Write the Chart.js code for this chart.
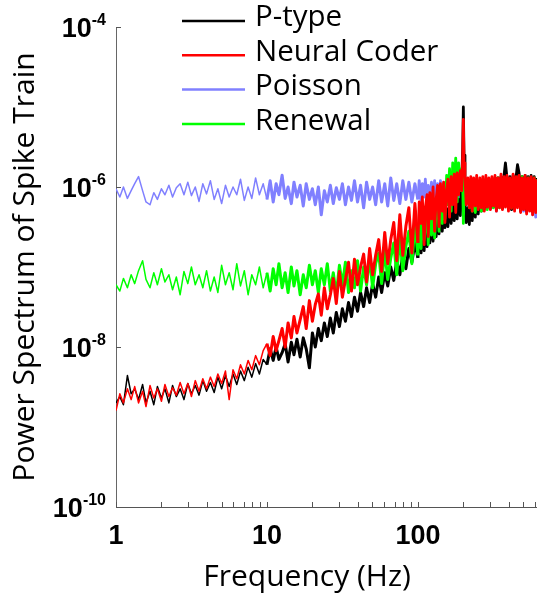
<!doctype html>
<html lang="en">
<head>
<meta charset="utf-8">
<title>Power Spectrum of Spike Train</title>
<script src="https://cdn.jsdelivr.net/npm/chart.js@4.4.1/dist/chart.umd.min.js"></script>
<style>
  html, body { margin: 0; padding: 0; background: #fff; }
  #wrap { width: 537px; height: 596px; }
</style>
</head>
<body>
<div id="wrap"><canvas id="psd" width="537" height="596"></canvas></div>
<script>
// frequency bins (Hz)
const freq = [
  1, 1.06, 1.12, 1.19, 1.26, 1.33, 1.41, 1.5, 1.58, 1.68,
  1.78, 1.88, 2, 2.11, 2.24, 2.37, 2.51, 2.66, 2.82, 2.99,
  3.16, 3.35, 3.55, 3.76, 3.98, 4.22, 4.47, 4.73, 5.01, 5.31,
  5.62, 5.96, 6.31, 6.68, 7.08, 7.5, 7.94, 8.41, 8.91, 9.44,
  10, 10.5, 11, 11.5, 12, 12.6, 13.2, 13.8, 14.5, 15.1,
  15.8, 16.6, 17.4, 18.2, 19.1, 20, 20.9, 21.9, 22.9, 24,
  25.1, 26.3, 27.5, 28.8, 30.2, 31.6, 33.1, 34.7, 36.3, 38,
  39.8, 41.7, 43.7, 45.7, 47.9, 50.1, 52.5, 55, 57.5, 60.3,
  63.1, 66.1, 69.2, 72.4, 75.9, 79.4, 83.2, 87.1, 91.2, 95.5,
  100, 102, 105, 107, 110, 112, 115, 117, 120, 123,
  126, 129, 132, 135, 138, 141, 145, 148, 151, 155,
  158, 162, 166, 170, 174, 178, 182, 186, 191, 195,
  198, 200, 202, 205, 209, 214, 219, 224, 229, 234,
  240, 245, 251, 257, 263, 269, 275, 282, 288, 295,
  302, 309, 316, 324, 331, 339, 347, 355, 363, 372,
  380, 389, 398, 407, 417, 427, 437, 447, 457, 468,
  479, 490, 501, 513, 525, 537, 550, 562, 575, 589,
  603, 615
];

const pType = [
  2.0e-9, 2.4e-9, 1.9e-9, 4.4e-9, 2.6e-9, 3.0e-9, 2.2e-9, 3.4e-9, 2.0e-9, 2.8e-9,
  1.9e-9, 3.2e-9, 2.3e-9, 3.0e-9, 2.0e-9, 3.3e-9, 2.4e-9, 3.0e-9, 2.2e-9, 3.5e-9,
  2.6e-9, 3.3e-9, 2.5e-9, 3.8e-9, 2.8e-9, 3.6e-9, 2.7e-9, 4.2e-9, 3.0e-9, 4.4e-9,
  3.2e-9, 4.6e-9, 3.4e-9, 5.0e-9, 3.8e-9, 5.6e-9, 4.2e-9, 6.2e-9, 4.6e-9, 7.0e-9,
  6.0e-9, 9.5e-9, 6.8e-9, 1.0e-8, 7.0e-9, 8.5e-9, 1.1e-8, 6.5e-9, 1.15e-8, 8.0e-9,
  1.25e-8, 7.5e-9, 1.3e-8, 9.5e-9, 5.5e-9, 1.5e-8, 1.0e-8, 1.7e-8, 1.2e-8, 2.0e-8,
  1.35e-8, 2.3e-8, 1.5e-8, 2.7e-8, 1.8e-8, 3.0e-8, 2.1e-8, 3.6e-8, 2.4e-8, 4.2e-8,
  2.8e-8, 4.8e-8, 3.2e-8, 5.5e-8, 3.6e-8, 6.2e-8, 4.2e-8, 7.5e-8, 4.8e-8, 8.5e-8,
  5.8e-8, 1.0e-7, 6.8e-8, 1.2e-7, 8.0e-8, 1.4e-7, 9.5e-8, 1.7e-7, 1.15e-7, 2.0e-7,
  1.3e-7, 2.4e-7, 1.5e-7, 2.7e-7, 1.6e-7, 2.9e-7, 1.8e-7, 3.2e-7, 2.0e-7, 3.5e-7,
  2.1e-7, 3.8e-7, 2.4e-7, 4.2e-7, 2.6e-7, 4.6e-7, 2.8e-7, 5.0e-7, 3.1e-7, 5.4e-7,
  3.2e-7, 5.8e-7, 3.5e-7, 6.2e-7, 3.8e-7, 6.6e-7, 4.0e-7, 7.0e-7, 4.4e-7, 1.2e-6,
  3.0e-6, 1.0e-5, 2.5e-6, 5.0e-7, 3.6e-7, 5.5e-7, 3.4e-7, 6.0e-7, 3.8e-7, 7.0e-7,
  4.2e-7, 8.0e-7, 4.6e-7, 9.0e-7, 5.0e-7, 1.0e-6, 5.2e-7, 1.1e-6, 5.5e-7, 1.2e-6,
  5.4e-7, 1.25e-6, 5.6e-7, 1.3e-6, 5.2e-7, 1.3e-6, 5.6e-7, 1.35e-6, 5.4e-7, 1.4e-6,
  2.0e-6, 1.3e-6, 5.5e-7, 1.35e-6, 5.2e-7, 1.4e-6, 5.4e-7, 1.35e-6, 1.9e-6, 1.5e-6,
  5.0e-7, 1.35e-6, 5.4e-7, 1.4e-6, 5.0e-7, 1.35e-6, 5.2e-7, 1.4e-6, 5.0e-7, 1.35e-6,
  5.2e-7, 1.3e-6
];

const neuralCoder = [
  1.6e-9, 2.6e-9, 2.0e-9, 3.0e-9, 2.2e-9, 3.2e-9, 2.0e-9, 2.8e-9, 1.8e-9, 3.3e-9,
  2.3e-9, 3.0e-9, 2.1e-9, 3.4e-9, 2.4e-9, 3.1e-9, 2.5e-9, 3.6e-9, 2.6e-9, 3.5e-9,
  2.4e-9, 3.8e-9, 2.8e-9, 4.0e-9, 3.0e-9, 4.2e-9, 3.2e-9, 4.6e-9, 3.5e-9, 5.0e-9,
  2.2e-9, 5.2e-9, 4.0e-9, 6.0e-9, 4.6e-9, 6.8e-9, 5.2e-9, 7.8e-9, 6.0e-9, 9.0e-9,
  1.1e-8, 7.8e-9, 1.35e-8, 9.0e-9, 1.2e-8, 1.7e-8, 1.0e-8, 2.0e-8, 1.3e-8, 2.4e-8,
  1.5e-8, 2.2e-8, 3.2e-8, 1.7e-8, 3.8e-8, 2.1e-8, 3.4e-8, 4.6e-8, 2.5e-8, 5.5e-8,
  3.0e-8, 4.5e-8, 7.2e-8, 3.5e-8, 8.8e-8, 4.2e-8, 7.0e-8, 1.15e-7, 5.0e-8, 1.25e-7,
  6.0e-8, 1.0e-7, 1.45e-7, 6.5e-8, 1.7e-7, 8.0e-8, 1.4e-7, 2.2e-7, 8.8e-8, 2.7e-7,
  1.1e-7, 2.2e-7, 3.6e-7, 1.2e-7, 4.5e-7, 1.4e-7, 3.2e-7, 5.5e-7, 1.5e-7, 6.2e-7,
  2.0e-7, 6.5e-7, 3.5e-7, 7.5e-7, 1.9e-7, 5.5e-7, 8.0e-7, 2.4e-7, 8.5e-7, 4.0e-7,
  1.0e-6, 2.8e-7, 7.0e-7, 1.05e-6, 3.2e-7, 1.1e-6, 5.0e-7, 1.15e-6, 3.6e-7, 9.0e-7,
  1.25e-6, 4.2e-7, 1.35e-6, 6.0e-7, 1.45e-6, 4.8e-7, 1.5e-6, 8.0e-7, 1.6e-6, 9.0e-7,
  2.5e-6, 7.0e-6, 2.0e-6, 1.3e-6, 6.0e-7, 1.3e-6, 5.5e-7, 1.35e-6, 5.0e-7, 1.3e-6,
  5.8e-7, 1.4e-6, 5.2e-7, 1.3e-6, 5.5e-7, 1.35e-6, 5.0e-7, 1.4e-6, 5.6e-7, 1.3e-6,
  5.2e-7, 1.35e-6, 5.8e-7, 1.4e-6, 5.0e-7, 1.3e-6, 5.5e-7, 1.45e-6, 5.2e-7, 1.35e-6,
  5.6e-7, 1.4e-6, 5.0e-7, 1.3e-6, 5.4e-7, 1.45e-6, 5.0e-7, 1.35e-6, 5.5e-7, 1.4e-6,
  4.8e-7, 1.3e-6, 5.2e-7, 1.4e-6, 4.6e-7, 1.3e-6, 5.0e-7, 1.35e-6, 4.5e-7, 1.3e-6,
  4.8e-7, 1.25e-6
];

const poisson = [
  9.5e-7, 7.5e-7, 1.0e-6, 7.2e-7, 9.0e-7, 1.1e-6, 1.35e-6, 9.0e-7, 6.5e-7, 6.0e-7,
  8.5e-7, 7.0e-7, 9.5e-7, 8.0e-7, 1.05e-6, 7.5e-7, 9.8e-7, 1.1e-6, 8.0e-7, 1.15e-6,
  7.8e-7, 1.0e-6, 6.6e-7, 1.1e-6, 8.2e-7, 1.2e-6, 7.0e-7, 9.5e-7, 6.2e-7, 1.05e-6,
  7.5e-7, 1.0e-6, 8.0e-7, 1.25e-6, 6.8e-7, 1.0e-6, 7.2e-7, 1.3e-6, 8.0e-7, 1.1e-6,
  7.0e-7, 1.2e-6, 6.5e-7, 1.1e-6, 8.0e-7, 1.4e-6, 7.2e-7, 1.0e-6, 6.2e-7, 1.15e-6,
  7.5e-7, 1.05e-6, 5.8e-7, 1.1e-6, 7.0e-7, 9.5e-7, 6.0e-7, 1.0e-6, 4.5e-7, 9.0e-7,
  6.5e-7, 1.05e-6, 6.2e-7, 9.8e-7, 7.0e-7, 1.1e-6, 6.0e-7, 1.0e-6, 6.8e-7, 1.2e-6,
  6.5e-7, 1.05e-6, 5.5e-7, 1.15e-6, 7.0e-7, 1.0e-6, 6.0e-7, 1.2e-6, 6.5e-7, 1.1e-6,
  5.8e-7, 1.3e-6, 6.8e-7, 1.1e-6, 6.2e-7, 1.2e-6, 7.0e-7, 1.15e-6, 6.5e-7, 1.1e-6,
  7.0e-7, 1.2e-6, 6.5e-7, 1.1e-6, 7.5e-7, 1.25e-6, 6.2e-7, 1.05e-6, 7.0e-7, 1.15e-6,
  6.5e-7, 1.2e-6, 6.8e-7, 1.1e-6, 6.0e-7, 1.2e-6, 7.0e-7, 1.05e-6, 6.5e-7, 1.15e-6,
  6.8e-7, 1.1e-6, 6.2e-7, 1.05e-6, 6.5e-7, 9.5e-7, 6.0e-7, 9.0e-7, 5.5e-7, 7.5e-7,
  5.0e-7, 6.0e-7, 5.2e-7, 8.0e-7, 6.0e-7, 9.5e-7, 5.8e-7, 1.0e-6, 6.2e-7, 1.1e-6,
  5.5e-7, 1.05e-6, 6.0e-7, 1.1e-6, 5.8e-7, 1.0e-6, 6.5e-7, 1.1e-6, 5.5e-7, 1.05e-6,
  6.2e-7, 1.1e-6, 5.8e-7, 1.0e-6, 5.0e-7, 1.05e-6, 6.0e-7, 1.1e-6, 5.5e-7, 1.0e-6,
  6.2e-7, 1.05e-6, 5.5e-7, 1.1e-6, 5.8e-7, 1.0e-6, 5.2e-7, 1.05e-6, 6.0e-7, 9.5e-7,
  5.5e-7, 1.0e-6, 5.0e-7, 9.5e-7, 4.8e-7, 1.0e-6, 5.2e-7, 9.0e-7, 4.5e-7, 9.5e-7,
  4.2e-7, 9.0e-7
];

const renewal = [
  6.0e-8, 5.0e-8, 7.2e-8, 5.5e-8, 8.0e-8, 6.2e-8, 9.0e-8, 1.2e-7, 7.0e-8, 5.5e-8,
  8.5e-8, 6.0e-8, 9.5e-8, 6.5e-8, 8.0e-8, 5.2e-8, 7.5e-8, 4.5e-8, 8.8e-8, 6.2e-8,
  1.0e-7, 6.0e-8, 8.0e-8, 5.5e-8, 9.0e-8, 5.0e-8, 7.5e-8, 4.8e-8, 1.05e-7, 6.0e-8,
  8.5e-8, 5.2e-8, 1.1e-7, 5.8e-8, 9.0e-8, 4.5e-8, 8.0e-8, 6.0e-8, 1.0e-7, 5.5e-8,
  8.5e-8, 5.0e-8, 9.5e-8, 6.0e-8, 1.1e-7, 5.5e-8, 8.5e-8, 4.8e-8, 1.0e-7, 5.8e-8,
  9.0e-8, 4.5e-8, 8.0e-8, 5.5e-8, 1.05e-7, 6.0e-8, 9.0e-8, 4.8e-8, 9.5e-8, 6.0e-8,
  1.1e-7, 5.0e-8, 8.5e-8, 4.6e-8, 1.05e-7, 6.0e-8, 1.15e-7, 4.8e-8, 9.0e-8, 5.5e-8,
  1.2e-7, 5.0e-8, 1.0e-7, 6.0e-8, 1.3e-7, 5.5e-8, 1.1e-7, 1.5e-7, 6.2e-8, 1.6e-7,
  7.0e-8, 1.3e-7, 2.0e-7, 8.0e-8, 2.4e-7, 9.0e-8, 1.8e-7, 2.8e-7, 1.1e-7, 3.4e-7,
  1.4e-7, 3.6e-7, 1.7e-7, 4.2e-7, 2.2e-7, 3.0e-7, 5.0e-7, 1.9e-7, 5.5e-7, 2.5e-7,
  6.5e-7, 2.3e-7, 5.0e-7, 7.5e-7, 2.8e-7, 1.0e-6, 3.5e-7, 1.1e-6, 4.0e-7, 1.4e-6,
  6.0e-7, 1.7e-6, 5.0e-7, 2.0e-6, 8.0e-7, 2.3e-6, 6.5e-7, 2.0e-6, 9.0e-7, 1.7e-6,
  1.2e-6, 3.5e-7, 8.0e-7, 1.3e-6, 7.0e-7, 1.1e-6, 5.5e-7, 1.2e-6, 5.0e-7, 1.05e-6,
  4.8e-7, 1.1e-6, 5.5e-7, 1.2e-6, 5.0e-7, 1.15e-6, 5.8e-7, 1.25e-6, 5.2e-7, 1.1e-6,
  6.0e-7, 1.2e-6, 5.5e-7, 1.15e-6, 6.0e-7, 1.3e-6, 5.5e-7, 1.2e-6, 6.2e-7, 1.25e-6,
  5.8e-7, 1.3e-6, 6.0e-7, 1.2e-6, 5.5e-7, 1.25e-6, 6.0e-7, 1.3e-6, 5.8e-7, 1.2e-6,
  6.2e-7, 1.35e-6, 5.5e-7, 1.2e-6, 6.0e-7, 1.3e-6, 5.5e-7, 1.2e-6, 5.8e-7, 1.3e-6,
  5.5e-7, 1.25e-6
];

const seriesNames = ['P-type', 'Neural Coder', 'Poisson', 'Renewal'];
const seriesColors = ['#000000', '#ff0000', '#8080ff', '#00ff00'];
const seriesData = [pType, neuralCoder, poisson, renewal];
// red on top, then green, black, blue underneath
const drawOrder = [2, 0, 3, 1];

const xTicks = [1, 2, 3, 4, 5, 6, 7, 8, 9, 10, 20, 30, 40, 50, 60, 70, 80, 90,
  100, 200, 300, 400, 500, 600];
const xTickLabels = { 1: '1', 10: '10', 100: '100' };
const yTicks = [1e-10, 1e-8, 1e-6, 1e-4];
const yTickExp = ['-10', '-8', '-6', '-4'];

const TITLE_FONT = 'Open Sans';
const TICK_FONT = 'Liberation Sans';

// the dense part of the spectrum is drawn heavier so it reads as a band
const bandWidth = c => {
  const f = c.p0.parsed.x;
  if (f >= 100) return 2.8;
  if (f >= 10) return 3;
  return 1.5;
};

// inward tick marks, 10^n labels and the legend
const decor = {
  id: 'decor',
  afterDraw(chart) {
    const { ctx, chartArea, scales: { x, y } } = chart;
    ctx.save();
    ctx.strokeStyle = '#555';
    ctx.lineWidth = 1;
    ctx.beginPath();
    x.ticks.forEach(t => {
      const px = Math.round(x.getPixelForValue(t.value)) + 0.5;
      ctx.moveTo(px, chartArea.bottom);
      ctx.lineTo(px, chartArea.bottom - 5);
    });
    y.ticks.forEach(t => {
      const py = Math.round(y.getPixelForValue(t.value)) + 0.5;
      ctx.moveTo(chartArea.left, py);
      ctx.lineTo(chartArea.left + 5, py);
    });
    ctx.stroke();

    ctx.fillStyle = '#000';
    ctx.textAlign = 'right';
    ctx.textBaseline = 'alphabetic';
    y.ticks.forEach((t, i) => {
      const py = y.getPixelForValue(t.value);
      ctx.font = 'bold 16px "' + TICK_FONT + '"';
      const exp = yTickExp[i];
      const ew = ctx.measureText(exp).width;
      ctx.fillText(exp, 106, py - 2);
      ctx.font = 'bold 27px "' + TICK_FONT + '"';
      ctx.fillText('10', 106 - ew, py + 10);
    });

    ctx.textAlign = 'left';
    ctx.font = '29.5px "' + TITLE_FONT + '"';
    seriesNames.forEach((name, i) => {
      const ly = 21 + i * 34.3;
      ctx.strokeStyle = seriesColors[i];
      ctx.lineWidth = 2.5;
      ctx.beginPath();
      ctx.moveTo(182, ly);
      ctx.lineTo(245, ly);
      ctx.stroke();
      ctx.fillStyle = '#000';
      ctx.fillText(name, 255, 26 + i * 34.7);
    });
    ctx.restore();
  }
};

const datasets = seriesNames.map((name, i) => ({
  label: name,
  data: freq.map((f, j) => ({ x: f, y: seriesData[i][j] })),
  borderColor: seriesColors[i],
  borderWidth: 1.5,
  borderJoinStyle: 'round',
  segment: { borderWidth: bandWidth },
  pointRadius: 0,
  fill: false,
  tension: 0,
  order: drawOrder[i]
}));

new Chart(document.getElementById('psd'), {
  type: 'line',
  data: { datasets },
  options: {
    responsive: false,
    animation: false,
    devicePixelRatio: 1,
    layout: { padding: { top: 27, left: 0, right: 0, bottom: 0 } },
    plugins: { legend: { display: false }, tooltip: { enabled: false } },
    scales: {
      x: {
        type: 'logarithmic',
        min: 1,
        max: 615,
        afterBuildTicks: s => { s.ticks = xTicks.map(v => ({ value: v })); },
        afterFit: s => { s.height = 89; s.paddingLeft = 0; s.paddingRight = 0; },
        grid: { display: true, drawOnChartArea: false, drawTicks: false },
        border: { display: true, color: '#555', width: 1 },
        ticks: {
          autoSkip: false,
          maxRotation: 0,
          padding: 13,
          color: '#000',
          font: { family: TICK_FONT, size: 27, weight: 'bold' },
          callback: v => xTickLabels[v] || ''
        },
        title: {
          display: true,
          text: 'Frequency (Hz)' + '\u00a0'.repeat(5),
          color: '#000',
          font: { family: TITLE_FONT, size: 30 },
          padding: { top: 0, bottom: 1 }
        }
      },
      y: {
        type: 'logarithmic',
        min: 1e-10,
        max: 1e-4,
        afterBuildTicks: s => { s.ticks = yTicks.map(v => ({ value: v })); },
        afterFit: s => { s.width = 116; },
        grid: { display: true, drawOnChartArea: false, drawTicks: false },
        border: { display: true, color: '#666', width: 1 },
        ticks: { display: false },
        title: {
          display: true,
          text: 'Power Spectrum of Spike Train',
          color: '#000',
          font: { family: TITLE_FONT, size: 30 },
          padding: { top: 7, bottom: 0 }
        }
      }
    }
  },
  plugins: [decor]
});
</script>
</body>
</html>
